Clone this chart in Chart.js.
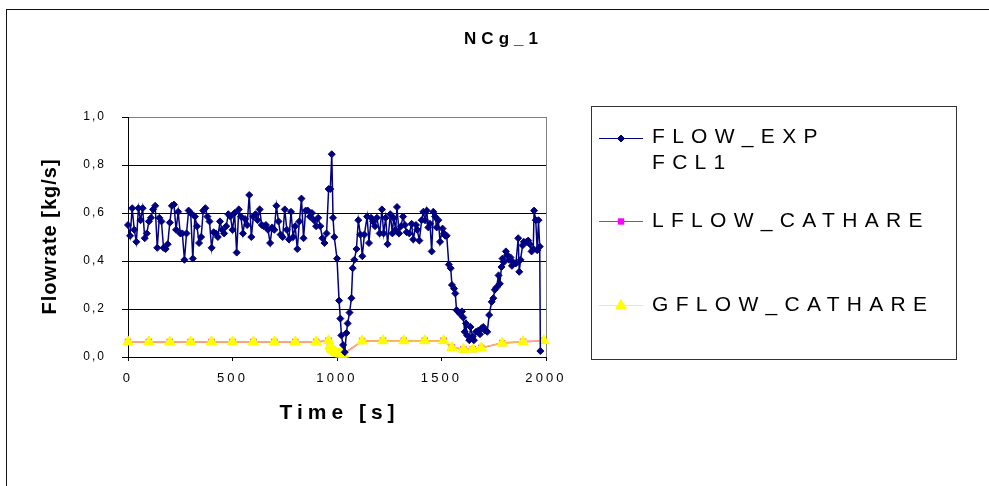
<!DOCTYPE html>
<html>
<head>
<meta charset="utf-8">
<title>NCg_1</title>
<script src="https://cdn.jsdelivr.net/npm/chart.js"></script>
<style>
  html, body { margin: 0; padding: 0; background: #fff; }
  #wrap { width: 989px; height: 486px; position: relative; }
</style>
</head>
<body>
<div id="wrap"><canvas id="chart" width="989" height="486"></canvas></div>
<script>
// --- 1. DATA ---
const chartTitle = 'NCg_1';
const xTitle = 'Time [s]';
const yTitle = 'Flowrate [kg/s]';
const seriesNames = [['FLOW_EXP', 'FCL1'], ['LFLOW_CATHARE'], ['GFLOW_CATHARE']];

// experimental flow, FCL1
const flowTime = [
  0, 10, 20, 30, 40, 50, 60, 70, 80, 90,
  100, 110, 120, 130, 140, 150, 160, 170, 180, 190,
  200, 210, 220, 230, 240, 250, 260, 270, 280, 290,
  300, 310, 320, 330, 340, 350, 360, 370, 380, 390,
  400, 410, 420, 430, 440, 450, 460, 470, 480, 490,
  500, 510, 520, 530, 540, 550, 560, 570, 580, 590,
  600, 610, 620, 630, 640, 650, 660, 670, 680, 690,
  700, 710, 720, 730, 740, 750, 760, 770, 780, 790,
  800, 810, 820, 830, 840, 850, 860, 870, 880, 890,
  900, 910, 920, 930, 940, 950,
  960, 968, 975, 981, 987, 1000, 1010, 1016, 1021, 1029,
  1037, 1045, 1051, 1060, 1069, 1075, 1083, 1093, 1102, 1112,
  1121, 1131, 1144, 1153, 1163, 1172, 1182, 1191, 1204, 1215,
  1223, 1233, 1242, 1255, 1265, 1271, 1281, 1287, 1297, 1306,
  1316, 1325, 1333, 1346, 1357, 1365, 1378, 1384, 1394, 1405,
  1413, 1421, 1429, 1437, 1445, 1453, 1461, 1469, 1477, 1485,
  1493, 1505, 1512, 1518, 1525, 1535, 1544, 1550, 1560, 1566,
  1572, 1579, 1588, 1598, 1604, 1611, 1617, 1623, 1633, 1639,
  1649, 1655, 1665, 1676, 1684, 1692, 1700, 1709, 1719, 1728,
  1740, 1748, 1755, 1763, 1773, 1779, 1787, 1792, 1798, 1808,
  1814, 1824, 1830, 1837, 1843, 1856, 1867, 1872, 1878, 1888,
  1894, 1907, 1915, 1923, 1931, 1939, 1943, 1951, 1958, 1964,
  1970, 1973
];
const flowExp = [
  0.55, 0.505, 0.62, 0.53, 0.48, 0.62, 0.57, 0.62, 0.495, 0.515,
  0.565, 0.58, 0.615, 0.63, 0.455, 0.58, 0.565, 0.455, 0.45, 0.47,
  0.56, 0.63, 0.635, 0.53, 0.605, 0.515, 0.515, 0.405, 0.515, 0.61,
  0.60, 0.41, 0.585, 0.545, 0.475, 0.50, 0.61, 0.62, 0.585, 0.565,
  0.455, 0.52, 0.515, 0.50, 0.565, 0.53, 0.515, 0.545, 0.595, 0.585,
  0.53, 0.60, 0.435, 0.615, 0.585, 0.515, 0.575, 0.55, 0.675, 0.50,
  0.585, 0.595, 0.57, 0.615, 0.55, 0.545, 0.55, 0.53, 0.475, 0.54,
  0.53, 0.63, 0.565, 0.51, 0.50, 0.615, 0.53, 0.49, 0.605, 0.50,
  0.545, 0.45, 0.565, 0.66, 0.495, 0.61, 0.61, 0.585, 0.60, 0.57,
  0.545, 0.58, 0.545, 0.495, 0.475, 0.515,
  0.70, 0.70, 0.845, 0.58, 0.50, 0.41, 0.235, 0.16, 0.09, 0.05,
  0.02, 0.10, 0.14, 0.185, 0.245, 0.37, 0.405, 0.45, 0.57, 0.51,
  0.42, 0.51, 0.585, 0.475, 0.58, 0.565, 0.545, 0.58, 0.515, 0.615,
  0.515, 0.58, 0.47, 0.595, 0.515, 0.58, 0.53, 0.625, 0.515, 0.545,
  0.585, 0.55, 0.52, 0.515, 0.555, 0.49, 0.55, 0.53, 0.485, 0.57,
  0.605, 0.57, 0.61, 0.54, 0.555, 0.44, 0.605, 0.585, 0.54, 0.57,
  0.48, 0.535, 0.515, 0.505, 0.505, 0.385, 0.37, 0.30, 0.285, 0.265,
  0.195, 0.19, 0.18, 0.19, 0.165, 0.105, 0.14, 0.09, 0.07, 0.125,
  0.085, 0.07, 0.105, 0.11, 0.095, 0.12, 0.125, 0.11, 0.105, 0.175,
  0.23, 0.245, 0.28, 0.29, 0.34, 0.305, 0.375, 0.41, 0.395, 0.44,
  0.425, 0.405, 0.415, 0.38, 0.395, 0.39, 0.495, 0.355, 0.405, 0.465,
  0.48, 0.48, 0.485, 0.47, 0.44, 0.45, 0.61, 0.57, 0.445, 0.57,
  0.46, 0.025
];

// CATHARE calculation (liquid and gas flow nearly on top of each other)
const cathTime = [
  0, 100, 200, 300, 400, 500, 600, 700, 800, 900,
  960, 966, 972, 978, 985, 992, 1000, 1008, 1016, 1024, 1032,
  1120, 1220, 1320, 1420, 1510,
  1550, 1605, 1650, 1690,
  1790, 1890, 1990
];
const lflowCathare = [
  0.063, 0.063, 0.063, 0.063, 0.063, 0.063, 0.063, 0.063, 0.063, 0.063,
  0.068, 0.046, 0.036, 0.031, 0.026, 0.021, 0.018, 0.016, 0.014, 0.013, 0.013,
  0.067, 0.068, 0.068, 0.068, 0.068,
  0.040, 0.032, 0.033, 0.038,
  0.058, 0.064, 0.068
];
const gflowCathare = [
  0.063, 0.063, 0.063, 0.063, 0.063, 0.063, 0.063, 0.063, 0.063, 0.063,
  0.068, 0.045, 0.035, 0.030, 0.025, 0.020, 0.017, 0.015, 0.013, 0.012, 0.012,
  0.067, 0.068, 0.068, 0.068, 0.068,
  0.040, 0.032, 0.033, 0.038,
  0.058, 0.064, 0.068
];

const xTicks = [0, 500, 1000, 1500, 2000];
const yTicks = [0, 0.2, 0.4, 0.6, 0.8, 1.0];

// --- 2. HELPERS ---
const FONT = "'Liberation Sans', Arial, sans-serif";
const toPoints = (xs, ys) => xs.map((x, i) => ({ x: x, y: ys[i] }));

function spacedText(ctx, text, x, y, font, spacing, align) {
  ctx.save();
  ctx.font = font;
  ctx.letterSpacing = spacing + 'px';
  ctx.textAlign = align || 'left';
  ctx.textBaseline = 'alphabetic';
  ctx.fillStyle = '#000';
  // canvas adds spacing after the last glyph too; compensate when centred
  ctx.fillText(text, align === 'center' ? x + spacing / 2 : x, y);
  ctx.restore();
}

// tick labels in the original are drawn with wide letter spacing
const tickSpacing = { x: '3.1px', y: '2px' };
const spacedTicks = {
  id: 'spacedTicks',
  afterUpdate(chart) {
    Object.keys(tickSpacing).forEach(id => {
      const scale = chart.scales[id];
      if (!scale || scale._spaced) return;
      const orig = scale.drawLabels;
      scale.drawLabels = function (area) {
        this.ctx.save();
        this.ctx.letterSpacing = tickSpacing[id];
        orig.call(this, area);
        this.ctx.restore();
      };
      scale._spaced = true;
    });
  }
};

// grey plot-area frame on the right, outer chart border, titles and boxed legend
const decorations = {
  id: 'decorations',
  beforeDatasetsDraw(chart) {
    const { ctx, chartArea: a } = chart;
    ctx.save();
    ctx.strokeStyle = '#808080';
    ctx.lineWidth = 1;
    ctx.beginPath();
    ctx.moveTo(Math.round(a.right) + 0.5, a.top);
    ctx.lineTo(Math.round(a.right) + 0.5, a.bottom);
    ctx.stroke();
    ctx.restore();
  },
  afterDraw(chart) {
    const { ctx, chartArea: a } = chart;
    ctx.save();

    // outer chart border (runs off the right and bottom of the picture)
    ctx.strokeStyle = '#111';
    ctx.lineWidth = 1;
    ctx.strokeRect(6.5, 9.5, 1200, 1000);

    // titles
    spacedText(ctx, chartTitle, 501, 44, 'bold 17px ' + FONT, 5, 'center');
    spacedText(ctx, xTitle, (a.left + a.right) / 2, 419, 'bold 21px ' + FONT, 5, 'center');
    ctx.save();
    ctx.translate(56, (a.top + a.bottom) / 2);
    ctx.rotate(-Math.PI / 2);
    spacedText(ctx, yTitle, 0, 0, 'bold 20px ' + FONT, 1, 'center');
    ctx.restore();

    // legend box
    ctx.strokeStyle = '#333';
    ctx.strokeRect(591.5, 106.5, 365, 253);

    const rows = [
      { lineY: 138, textY: [143, 169], ds: 0 },
      { lineY: 221, textY: [227], ds: 1 },
      { lineY: 305, textY: [311], ds: 2 }
    ];
    rows.forEach(r => {
      const ds = chart.data.datasets[r.ds];
      ctx.strokeStyle = ds.legendColor;
      ctx.lineWidth = 1;
      ctx.beginPath();
      ctx.moveTo(599, r.lineY + 0.5);
      ctx.lineTo(643, r.lineY + 0.5);
      ctx.stroke();
      ctx.fillStyle = ds.pointBackgroundColor;
      ctx.strokeStyle = ds.pointBorderColor;
      Chart.helpers.drawPoint(ctx, {
        pointStyle: ds.pointStyle,
        radius: ds.pointRadius,
        rotation: 0,
        borderWidth: ds.pointBorderWidth
      }, 621, r.lineY + 0.5);
      seriesNames[r.ds].forEach((txt, k) => {
        spacedText(ctx, txt, 652, r.textY[k], '21px ' + FONT, 7.3, 'left');
      });
    });
    ctx.restore();
  }
};

// --- 3. CHART ---
const chart = new Chart(document.getElementById('chart').getContext('2d'), {
  type: 'line',
  data: {
    datasets: [{
      label: seriesNames[0].join(' '),
      data: toPoints(flowTime, flowExp),
      borderColor: '#000080',
      legendColor: '#000080',
      borderWidth: 1.5,
      pointStyle: 'rectRot',
      pointRadius: 3.5,
      pointBorderWidth: 1,
      pointBackgroundColor: '#000080',
      pointBorderColor: '#000080',
      tension: 0,
      clip: false,
      order: 0
    }, {
      label: seriesNames[1][0],
      data: toPoints(cathTime, lflowCathare),
      borderColor: '#FF00FF',
      legendColor: '#FF00FF',
      borderWidth: 1.5,
      pointStyle: 'rect',
      pointRadius: 4.5,
      pointBorderWidth: 0,
      pointBackgroundColor: '#FF00FF',
      pointBorderColor: '#FF00FF',
      tension: 0,
      clip: false,
      order: 2
    }, {
      label: seriesNames[2][0],
      data: toPoints(cathTime, gflowCathare),
      borderColor: 'rgba(255,255,0,0.7)',
      legendColor: '#FFFF00',
      borderWidth: 1.5,
      pointStyle: 'triangle',
      pointRadius: 6,
      pointBorderWidth: 1,
      pointBackgroundColor: '#FFFF00',
      pointBorderColor: '#FFFF00',
      tension: 0,
      clip: false,
      order: 1
    }]
  },
  options: {
    responsive: false,
    animation: false,
    devicePixelRatio: 1,
    layout: { padding: { top: 117, right: 443, bottom: 0, left: 0 } },
    plugins: {
      legend: { display: false },
      title: { display: false },
      tooltip: { enabled: false }
    },
    scales: {
      x: {
        type: 'linear',
        min: xTicks[0],
        max: xTicks[xTicks.length - 1],
        afterBuildTicks: s => { s.ticks = xTicks.map(v => ({ value: v })); },
        afterFit: s => { s.height = 129; },
        grid: { drawOnChartArea: false, drawTicks: true, tickLength: 4, tickColor: '#000' },
        border: { color: '#000', width: 1 },
        ticks: {
          padding: 10,
          color: '#000',
          font: { family: FONT, size: 13 },
          callback: v => String(v)
        }
      },
      y: {
        min: yTicks[0],
        max: yTicks[yTicks.length - 1],
        afterBuildTicks: s => { s.ticks = yTicks.map(v => ({ value: v })); },
        afterFit: s => { s.width = 128; },
        grid: {
          color: c => (c.tick && c.tick.value > 0.99 ? '#808080' : '#000'),
          tickColor: '#000',
          tickLength: 6,
          lineWidth: 1
        },
        border: { color: '#000', width: 1 },
        ticks: {
          padding: 16,
          color: '#000',
          font: { family: FONT, size: 12 },
          callback: v => v.toFixed(1).replace('.', ',')
        }
      }
    }
  },
  plugins: [spacedTicks, decorations]
});
</script>
</body>
</html>
